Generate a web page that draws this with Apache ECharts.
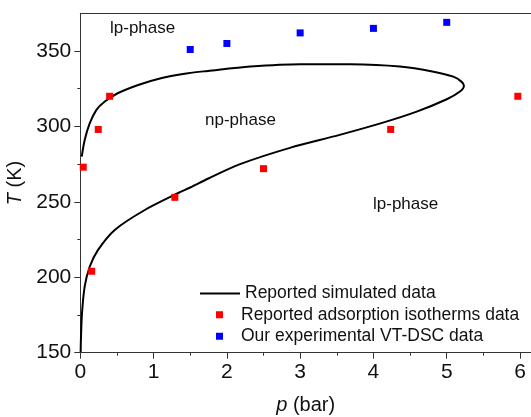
<!DOCTYPE html>
<html>
<head>
<meta charset="utf-8">
<script src="https://cdn.jsdelivr.net/npm/echarts@6/dist/echarts.min.js"></script>
<style>
  html, body { margin: 0; padding: 0; background: #fff; }
  #chart { width: 531px; height: 417px; }
</style>
</head>
<body>
<div id="chart"></div>
<script>
// Simulated phase boundary (p in bar, T in K), traced from the lower branch
// up around the nose and back along the upper branch.
const simulatedP = [0.005, 0.008, 0.023, 0.06, 0.128, 0.24, 0.47, 0.88, 1.33, 1.5, 1.74, 2.18, 2.86, 3.54, 4.13, 4.59, 5.0, 5.18, 5.235, 5.2, 5.09, 4.82, 4.36, 3.68, 3.0, 2.32, 1.74, 1.47, 1.1, 0.79, 0.51, 0.33, 0.22, 0.128, 0.06, 0.02];
const simulatedT = [150.5, 158, 176, 194, 207, 218, 231.4, 244.6, 255.7, 259.5, 265.3, 275, 285.8, 294.4, 302.5, 309.8, 318, 323.1, 327, 329.7, 333, 336.3, 339.7, 341.2, 341.3, 339.7, 336.8, 335.3, 332, 327.5, 322, 316.4, 311, 302, 291, 280];

// Adsorption isotherm transitions
const isothermP = [0.04, 0.155, 0.245, 0.40, 1.29, 2.5, 4.235, 5.97];
const isothermT = [273, 204, 298, 320, 253, 272, 298, 320];

// VT-DSC measurements
const dscP = [1.5, 2.0, 3.0, 4.0, 5.0];
const dscT = [351, 355, 362, 365, 369];

const xTicks = [0, 1, 2, 3, 4, 5, 6];
const xMinorTicks = [0.5, 1.5, 2.5, 3.5, 4.5, 5.5];
const yTicks = [150, 200, 250, 300, 350];
const yMinorTicks = [175, 225, 275, 325];

const seriesNames = ['Reported simulated data', 'Reported adsorption isotherms data', 'Our experimental VT-DSC data'];

const pairs = (xs, ys) => xs.map((x, i) => [x, ys[i]]);

const FONT = '"Liberation Sans", Arial, sans-serif';
const AXIS_COLOR = '#333';
const TEXT_COLOR = '#111';

const chart = echarts.init(document.getElementById('chart'), null, { renderer: 'canvas' });

const baseX = { type: 'value', min: 0, max: 6.15, gridIndex: 0 };
const baseY = { type: 'value', min: 150, max: 375, gridIndex: 0 };
const hiddenLine = { show: true, onZero: false, lineStyle: { color: AXIS_COLOR, opacity: 0 } };

chart.setOption({
  animation: false,
  backgroundColor: '#fff',
  textStyle: { fontFamily: FONT },
  grid: { left: 80.3, right: 0, top: 13.3, bottom: 64.3, containLabel: false, outerBoundsMode: 'none' },
  xAxis: [
    Object.assign({}, baseX, {
      position: 'bottom',
      name: '{i|p} (bar)',
      nameLocation: 'middle',
      nameGap: 43,
      nameTextStyle: {
        fontSize: 20, color: TEXT_COLOR, fontFamily: FONT,
        rich: { i: { fontSize: 20, fontStyle: 'italic', color: TEXT_COLOR, fontFamily: FONT } }
      },
      axisLine: { show: true, onZero: false, lineStyle: { color: AXIS_COLOR, width: 1 } },
      axisTick: { show: true, inside: false, length: 6, customValues: xTicks, lineStyle: { color: AXIS_COLOR } },
      axisLabel: { show: true, customValues: xTicks, margin: 9, fontSize: 21, color: TEXT_COLOR, fontFamily: FONT },
      splitLine: { show: false }
    }),
    Object.assign({}, baseX, {
      position: 'bottom',
      axisLine: hiddenLine,
      axisTick: { show: true, inside: false, length: 3, customValues: xMinorTicks, lineStyle: { color: AXIS_COLOR } },
      axisLabel: { show: false },
      splitLine: { show: false }
    }),
    Object.assign({}, baseX, {
      position: 'top',
      axisLine: { show: true, onZero: false, lineStyle: { color: AXIS_COLOR, width: 1 } },
      axisTick: { show: false },
      axisLabel: { show: false },
      splitLine: { show: false }
    })
  ],
  yAxis: [
    Object.assign({}, baseY, {
      position: 'left',
      name: '{i|T} (K)',
      nameLocation: 'middle',
      nameGap: 50,
      nameRotate: 90,
      nameTextStyle: {
        fontSize: 20, color: TEXT_COLOR, fontFamily: FONT,
        rich: { i: { fontSize: 20, fontStyle: 'italic', color: TEXT_COLOR, fontFamily: FONT } }
      },
      axisLine: { show: true, onZero: false, lineStyle: { color: AXIS_COLOR, width: 1 } },
      axisTick: { show: true, inside: false, length: 6, customValues: yTicks, lineStyle: { color: AXIS_COLOR } },
      axisLabel: { show: true, customValues: yTicks, margin: 9, fontSize: 21, color: TEXT_COLOR, fontFamily: FONT },
      splitLine: { show: false }
    }),
    Object.assign({}, baseY, {
      position: 'left',
      offset: 0,
      axisLine: hiddenLine,
      axisTick: { show: true, inside: false, length: 3, customValues: yMinorTicks, lineStyle: { color: AXIS_COLOR } },
      axisLabel: { show: false },
      splitLine: { show: false }
    })
  ],
  legend: [
    {
      data: [{ name: seriesNames[0], icon: 'rect' }],
      left: 200, top: 283, padding: 0,
      orient: 'vertical',
      itemWidth: 40, itemHeight: 2,
      itemGap: 0,
      itemStyle: { color: '#000' },
      textStyle: { fontSize: 17.5, color: TEXT_COLOR, fontFamily: FONT, lineHeight: 21 },
      selectedMode: false
    },
    {
      data: [seriesNames[1], seriesNames[2]],
      left: 216, top: 304, padding: 0,
      orient: 'vertical',
      itemWidth: 7, itemHeight: 7,
      itemGap: 0,
      textStyle: { fontSize: 17.5, color: TEXT_COLOR, fontFamily: FONT, lineHeight: 21.5, padding: [0, 0, 0, 13] },
      selectedMode: false
    }
  ],
  graphic: [
    { type: 'text', left: 110, top: 20, style: { text: 'lp-phase', font: '17px ' + FONT, fill: TEXT_COLOR } },
    { type: 'text', left: 205, top: 112, style: { text: 'np-phase', font: '17px ' + FONT, fill: TEXT_COLOR } },
    { type: 'text', left: 373, top: 196, style: { text: 'lp-phase', font: '17px ' + FONT, fill: TEXT_COLOR } }
  ],
  series: [
    {
      name: seriesNames[0],
      type: 'line',
      xAxisIndex: 0, yAxisIndex: 0,
      data: pairs(simulatedP, simulatedT),
      smooth: 0.3,
      showSymbol: false,
      symbol: 'none',
      lineStyle: { color: '#000', width: 2 },
      itemStyle: { color: '#000' },
      z: 3
    },
    {
      name: seriesNames[1],
      type: 'scatter',
      xAxisIndex: 0, yAxisIndex: 0,
      data: pairs(isothermP, isothermT),
      symbol: 'rect',
      symbolSize: 7,
      itemStyle: { color: '#ff0000', opacity: 1 },
      z: 4
    },
    {
      name: seriesNames[2],
      type: 'scatter',
      xAxisIndex: 0, yAxisIndex: 0,
      data: pairs(dscP, dscT),
      symbol: 'rect',
      symbolSize: 7,
      itemStyle: { color: '#0000ff', opacity: 1 },
      z: 4
    }
  ]
});
</script>
</body>
</html>
